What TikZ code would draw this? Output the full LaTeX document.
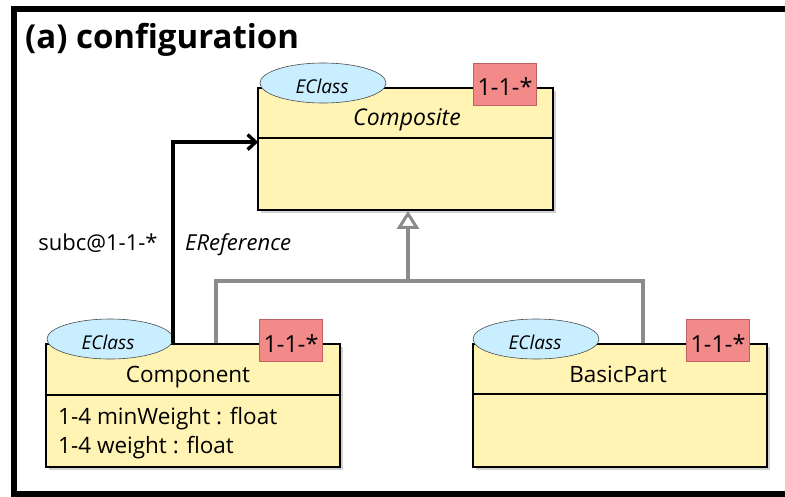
\documentclass[tikz,border=0pt]{standalone}
\usepackage{fontspec}
\setmainfont{Open Sans}
\usetikzlibrary{arrows.meta,shapes.geometric,shadows}
\definecolor{cfill}{HTML}{FFF4B4}
\definecolor{efill}{HTML}{C8EEFF}
\definecolor{tfill}{HTML}{F28A8A}
\definecolor{tline}{HTML}{C06060}
\definecolor{gline}{HTML}{8C8C8C}
\tikzset{
  classbox/.style={draw=black, line width=1.8pt, fill=cfill, inner sep=0pt,
    drop shadow={shadow xshift=3pt, shadow yshift=-3pt, fill=black!18, opacity=1}},
  sepline/.style={draw=black, line width=1.8pt},
  eclass/.style={ellipse, draw=black!70, line width=0.6pt, fill=efill, minimum width=126pt, minimum height=40pt, inner sep=0pt},
  tag/.style={draw=tline, line width=0.8pt, fill=tfill, minimum width=63pt, minimum height=42pt, inner sep=0pt},
  cname/.style={font=\fontsize{22.5}{26}\selectfont, anchor=base, inner sep=0pt},
  ename/.style={font=\fontsize{19}{22}\selectfont\itshape, anchor=base, inner sep=0pt},
  tagtext/.style={font=\fontsize{23.5}{27}\selectfont, anchor=base, inner sep=0pt},
  attr/.style={font=\fontsize{22.5}{26}\selectfont, anchor=base west, inner sep=0pt},
  lbl/.style={font=\fontsize{22}{26}\selectfont, anchor=base, inner sep=0pt},
  refline/.style={draw=black, line width=3.4pt, -{Straight Barb[length=8pt,width=15pt]}},
  genline/.style={draw=gline, line width=3.6pt},
}
\begin{document}
\begin{tikzpicture}[x=1pt,y=-1pt]
\useasboundingbox (0,0) rectangle (785,496);
% frame
\draw[line width=6pt] (13.5,9) rectangle (800,494);
\node[font=\fontsize{33}{38}\selectfont\bfseries, anchor=base west, inner sep=0pt] (title) at (25,48) {(a) configuration};

% Composite
\node[classbox, minimum width=295pt, minimum height=122pt] (comp) at (405.5,149) {};
\draw[sepline] (comp.west |- 0,138) -- (comp.east |- 0,138);
\node[eclass] (compE) at (323,83) {};
\node[ename] (compEt) at (322,93) {EClass};
\node[tag] (compT) at (505,84) {};
\node[tagtext] (compTt) at (505,95) {1-1-*};
\node[cname, font=\fontsize{23}{27}\selectfont\itshape] (compN) at (407,125) {Composite};

% Component
\node[classbox, minimum width=294pt, minimum height=123pt] (compo) at (193,405.5) {};
\draw[sepline] (compo.west |- 0,395) -- (compo.east |- 0,395);
\node[eclass] (compoE) at (110,339) {};
\node[ename] (compoEt) at (108,349) {EClass};
\node[tag] (compoT) at (291,340) {};
\node[tagtext] (compoTt) at (291,352) {1-1-*};
\node[cname] (compoN) at (188,382) {Component};
\node[attr] (a1) at (58,424) {1-4 minWeight : float};
\node[attr] (a2) at (58,453) {1-4 weight : float};

% BasicPart
\node[classbox, minimum width=294pt, minimum height=123pt] (basic) at (620,405.5) {};
\draw[sepline] (basic.west |- 0,394) -- (basic.east |- 0,394);
\node[eclass] (basicE) at (536,339) {};
\node[ename] (basicEt) at (535,349) {EClass};
\node[tag] (basicT) at (718,340) {};
\node[tagtext] (basicTt) at (718,352) {1-1-*};
\node[cname] (basicN) at (618,382) {BasicPart};

% reference
\draw[refline] ([xshift=128pt]compo.north west) |- ([yshift=-55pt,xshift=1pt]comp.north west);
\node[lbl] (l1) at (98,250) {subc@1-1-*};
\node[lbl, font=\fontsize{22}{26}\selectfont\itshape, anchor=base west] (l2) at (185,250) {EReference};

% generalization
\coordinate (hub) at (408,281);
\draw[genline] ([xshift=171pt]compo.north west) |- (hub) -| ([xshift=171pt]basic.north west);
\draw[genline, -{Triangle[open, fill=white, width=22pt, length=18pt, line width=3pt]}] (hub) -- (hub |- comp.south);
\end{tikzpicture}
\end{document}
